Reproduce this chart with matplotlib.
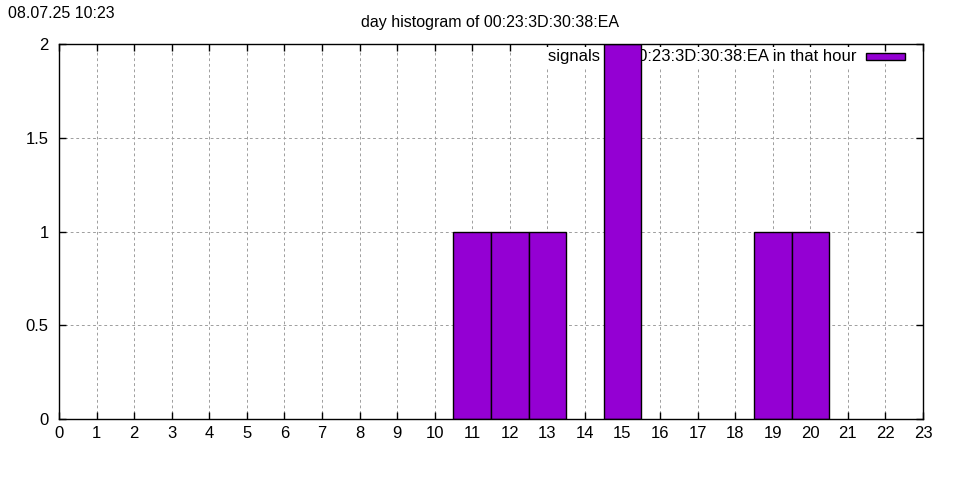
import matplotlib.pyplot as plt
from matplotlib.patches import Rectangle
from matplotlib.ticker import FuncFormatter

plt.rcParams['font.family'] = ['Liberation Sans', 'DejaVu Sans']

# hourly counts
hours = [11, 12, 13, 15, 19, 20]
counts = [1, 1, 1, 2, 1, 1]
x_ticks = list(range(0, 24))
y_ticks = [0, 0.5, 1, 1.5, 2]
label = 'signals for 00:23:3D:30:38:EA in that hour'
bar_color = '#9400d3'

fig = plt.figure(figsize=(9.6, 4.8), dpi=100)
ax = fig.add_axes([59 / 960, 1 - 419 / 480, 864 / 960, 375 / 480])

ax.bar(hours, counts, width=1.0, color=bar_color, edgecolor='black',
       linewidth=1, zorder=3)

ax.set_xlim(0, 23)
ax.set_ylim(0, 2)
ax.set_xticks(x_ticks)
ax.set_yticks(y_ticks)
ax.yaxis.set_major_formatter(FuncFormatter(lambda v, p: f'{v:g}'))
ax.tick_params(direction='in', length=5, width=1, top=True, right=True,
               labelsize=12)
ax.tick_params(axis='y', pad=7.5)
ax.tick_params(axis='x', pad=5)
ax.grid(True, color='#a0a0a0', linestyle=(0, (2.8, 2.8)), linewidth=0.72,
        zorder=0.5)
ax.set_axisbelow(True)
for s in ax.spines.values():
    s.set_linewidth(1)
    s.set_zorder(4)

# gnuplot-like key: text with white box, sample box on the right
ax.text((856 - 59) / 864, (419 - 57) / 375, label, transform=ax.transAxes,
        ha='right', va='center', fontsize=12, zorder=2,
        bbox=dict(facecolor='white', edgecolor='none', pad=2))
ax.add_patch(Rectangle(((866 - 59) / 864, (419 - 60) / 375), 39 / 864, 7 / 375,
                       transform=ax.transAxes, facecolor=bar_color,
                       edgecolor='black', linewidth=1, zorder=5))

fig.text(490 / 960, 1 - 22 / 480, 'day histogram of 00:23:3D:30:38:EA',
         ha='center', va='center', fontsize=11.5)
fig.text(8 / 960, 1 - 13 / 480, '08.07.25 10:23', ha='left', va='center',
         fontsize=11.5)

plt.savefig('out.png', dpi=100)
